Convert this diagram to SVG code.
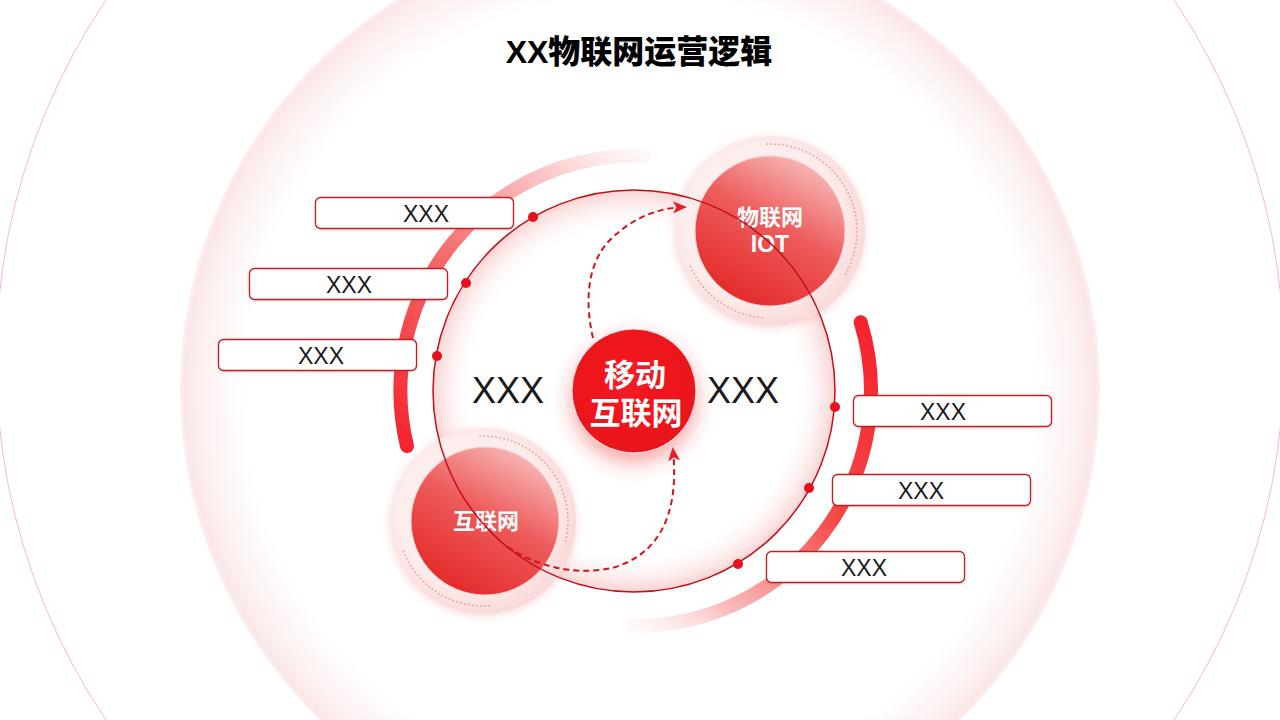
<svg xmlns="http://www.w3.org/2000/svg" width="1280" height="720" viewBox="0 0 1280 720">
  <defs>
    <style>
      .title { font-family: "Liberation Sans", "Noto Sans CJK SC", sans-serif; font-weight: 900; font-size: 32px; fill: #000; text-anchor: middle; }
      .node-text { font-family: "Liberation Sans", "Noto Sans CJK SC", sans-serif; font-weight: bold; fill: #fff; text-anchor: middle; }
      .big-x { font-family: "Liberation Sans", "Noto Sans CJK SC", sans-serif; font-size: 36px; fill: #1a1a1a; text-anchor: middle; }
      .box { fill: #fff; stroke: #c41a22; stroke-width: 1.3; }
      .box-text { font-family: "Liberation Sans", "Noto Sans CJK SC", sans-serif; font-size: 23px; fill: #1a1a1a; text-anchor: middle; }
      .ring { fill: none; stroke: #c0101a; stroke-width: 1.5; }
      .dot { fill: #e8101a; }
      .dash { fill: none; stroke: #d0141c; stroke-width: 2; stroke-dasharray: 6 4; }
      .dotted { fill: none; stroke: #e49a9a; stroke-width: 1.5; stroke-dasharray: 0.5 3.5; stroke-linecap: round; }
      .halo { fill: url(#haloGrad); }
      .inner { fill: url(#nodeGrad); stroke: #fbd2d2; stroke-width: 1; }
    </style>
    <radialGradient id="bigDisc" cx="0.5" cy="0.5" r="0.5">
      <stop offset="0" stop-color="#ffffff"/>
      <stop offset="0.86" stop-color="#ffffff"/>
      <stop offset="0.95" stop-color="#fdf1f1"/>
      <stop offset="0.99" stop-color="#fce7e7"/>
      <stop offset="1" stop-color="#fdf0f0"/>
    </radialGradient>
    <radialGradient id="ringGlow" cx="0.5" cy="0.5" r="0.5">
      <stop offset="0" stop-color="#ffffff" stop-opacity="0"/>
      <stop offset="0.8" stop-color="#ffffff" stop-opacity="0"/>
      <stop offset="1" stop-color="#f8c4c4" stop-opacity="0.75"/>
    </radialGradient>
    <radialGradient id="haloGrad" cx="0.45" cy="0.45" r="0.55">
      <stop offset="0" stop-color="#fff7f7"/>
      <stop offset="0.75" stop-color="#fdecec"/>
      <stop offset="1" stop-color="#fadada"/>
    </radialGradient>
    <linearGradient id="nodeGrad" x1="0.75" y1="0.05" x2="0.25" y2="0.95">
      <stop offset="0" stop-color="#f7b5b5"/>
      <stop offset="0.45" stop-color="#ee5b5b"/>
      <stop offset="1" stop-color="#e42a2a"/>
    </linearGradient>
    <radialGradient id="centerGrad" cx="0.45" cy="0.4" r="0.6">
      <stop offset="0" stop-color="#f41c22"/>
      <stop offset="1" stop-color="#e8121a"/>
    </radialGradient>
    <linearGradient id="arcLeft" gradientUnits="userSpaceOnUse" x1="405" y1="450" x2="650" y2="150">
      <stop offset="0" stop-color="#f5222d"/>
      <stop offset="0.45" stop-color="#f56a6a"/>
      <stop offset="0.8" stop-color="#fbcccc"/>
      <stop offset="1" stop-color="#fde6e6" stop-opacity="0.2"/>
    </linearGradient>
    <linearGradient id="arcRight" gradientUnits="userSpaceOnUse" x1="860" y1="320" x2="632" y2="630">
      <stop offset="0" stop-color="#f5222d"/>
      <stop offset="0.45" stop-color="#f44848"/>
      <stop offset="0.8" stop-color="#f9b8b8"/>
      <stop offset="1" stop-color="#fde6e6" stop-opacity="0.2"/>
    </linearGradient>
    <filter id="haloShadow" x="-30%" y="-30%" width="160%" height="160%">
      <feDropShadow dx="0" dy="2" stdDeviation="4" flood-color="#f3a0a0" flood-opacity="0.4"/>
    </filter>
    <filter id="centerShadow" x="-50%" y="-50%" width="200%" height="200%">
      <feDropShadow dx="0" dy="9" stdDeviation="10" flood-color="#f23030" flood-opacity="0.45"/>
    </filter>
    <filter id="boxShadow" x="-10%" y="-30%" width="120%" height="160%">
      <feDropShadow dx="0" dy="1" stdDeviation="1" flood-color="#b04040" flood-opacity="0.2"/>
    </filter>
    <marker id="arrow" markerUnits="userSpaceOnUse" markerWidth="14" markerHeight="12" refX="11" refY="6" orient="auto">
      <path d="M0,0 L14,6 L0,12 L3.5,6 z" fill="#e51c23"/>
    </marker>
  </defs>

  <!-- background -->
  <rect x="0" y="0" width="1280" height="720" fill="#ffffff"/>
  <circle cx="640" cy="360" r="644" fill="none" stroke="#f0a0a0" stroke-width="1" opacity="0.7"/>
  <circle cx="640" cy="390" r="460" fill="url(#bigDisc)"/>

  <!-- thick decorative arcs -->
  <g id="arcs" fill="none" stroke-width="14" stroke-linecap="round">
    <path d="M 407 446 A 235 235 0 0 1 644 156" stroke="url(#arcLeft)"/>
    <path d="M 860.7 322.3 A 235 235 0 0 1 632 626" stroke="url(#arcRight)"/>
  </g>

  <!-- inner ring glow -->
  <circle cx="634" cy="391" r="201" fill="url(#ringGlow)"/>

  <!-- IOT node -->
  <g id="node-iot">
    <circle class="halo" cx="770" cy="231" r="95" filter="url(#haloShadow)"/>
    <path class="dotted" d="M 767 144.1 A 87 87 0 0 1 845.3 274.5"/>
    <path class="dotted" d="M 762.4 317.7 A 87 87 0 0 1 689.3 263.6"/>
    <circle class="inner" cx="770" cy="231" r="75"/>
    <text class="node-text" x="770" y="225" font-size="22">物联网</text>
    <text class="node-text" x="770" y="252" font-size="23">IOT</text>
  </g>

  <!-- Internet node -->
  <g id="node-internet">
    <circle class="halo" cx="483" cy="521" r="93" filter="url(#haloShadow)"/>
    <path class="dotted" d="M 480 436.1 A 85 85 0 0 1 565.1 543"/>
    <path class="dotted" d="M 488.9 605.8 A 85 85 0 0 1 403.1 550.1"/>
    <circle class="inner" cx="485" cy="521" r="74"/>
    <text class="node-text" x="486" y="529" font-size="22">互联网</text>
  </g>

  <!-- connectors -->
  <g id="connectors">
    <circle class="ring" cx="634" cy="391" r="201"/>
    <circle class="dot" cx="533" cy="217" r="5"/>
    <circle class="dot" cx="466" cy="283" r="5"/>
    <circle class="dot" cx="437" cy="356" r="5"/>
    <circle class="dot" cx="835" cy="407" r="5"/>
    <circle class="dot" cx="809" cy="488" r="5"/>
    <circle class="dot" cx="738" cy="564" r="5"/>
    <path class="dash" d="M 593 338 C 584 300, 588 262, 610 240 C 630 220, 655 208, 684 207" marker-end="url(#arrow)"/>
    <path class="dash" d="M 508 547 C 535 566, 575 576, 612 568 C 655 556, 680 520, 673 450" marker-end="url(#arrow)"/>
  </g>

  <!-- center node -->
  <g id="node-center">
    <circle cx="634" cy="391" r="62" fill="url(#centerGrad)" stroke="#fde0e0" stroke-width="1" filter="url(#centerShadow)"/>
    <text class="node-text" x="635" y="386" font-size="31">移动</text>
    <text class="node-text" x="636" y="424" font-size="31">互联网</text>
  </g>

  <!-- side labels -->
  <g id="label-left-big"><text class="big-x" x="508" y="403">XXX</text></g>
  <g id="label-right-big"><text class="big-x" x="743" y="403">XXX</text></g>

  <g id="box-1"><rect class="box" x="315.5" y="197.5" width="198" height="31" rx="5" filter="url(#boxShadow)"/><text class="box-text" x="426" y="222">XXX</text></g>
  <g id="box-2"><rect class="box" x="249.5" y="268.5" width="198" height="31" rx="5" filter="url(#boxShadow)"/><text class="box-text" x="349" y="293">XXX</text></g>
  <g id="box-3"><rect class="box" x="218.5" y="339.5" width="198" height="31" rx="5" filter="url(#boxShadow)"/><text class="box-text" x="321" y="364">XXX</text></g>
  <g id="box-4"><rect class="box" x="853.5" y="395.5" width="198" height="31" rx="5" filter="url(#boxShadow)"/><text class="box-text" x="943" y="420">XXX</text></g>
  <g id="box-5"><rect class="box" x="832.5" y="474.5" width="198" height="31" rx="5" filter="url(#boxShadow)"/><text class="box-text" x="921" y="499">XXX</text></g>
  <g id="box-6"><rect class="box" x="766.5" y="551.5" width="198" height="31" rx="5" filter="url(#boxShadow)"/><text class="box-text" x="864" y="576">XXX</text></g>

  <!-- title -->
  <g id="title"><text class="title" x="639" y="63">XX物联网运营逻辑</text></g>
</svg>
